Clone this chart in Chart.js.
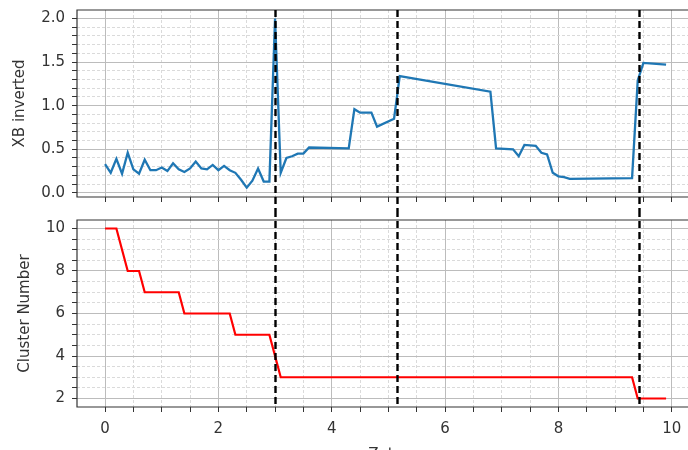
<!DOCTYPE html>
<html>
<head>
<meta charset="utf-8">
<script src="https://cdn.jsdelivr.net/npm/chart.js@4/dist/chart.umd.min.js"></script>
<style>
  html, body { margin: 0; padding: 0; background: #fff; overflow: hidden; }
  #wrap { position: relative; width: 688px; height: 450px; overflow: hidden; }
  #wrap canvas { position: absolute; left: 0; }
  #xbCanvas { top: 0; }
  #clusterCanvas { top: 210px; }
</style>
</head>
<body>
<div id="wrap">
  <canvas id="xbCanvas" width="688" height="210"></canvas>
  <canvas id="clusterCanvas" width="688" height="240"></canvas>
</div>
<script>
// XB index (inverted) along zeta
const xbX = [0.0, 0.1, 0.2, 0.3, 0.4, 0.5, 0.6, 0.7, 0.8, 0.9,
             1.0, 1.1, 1.2, 1.3, 1.4, 1.5, 1.6, 1.7, 1.8, 1.9,
             2.0, 2.1, 2.2, 2.3, 2.4, 2.5, 2.6, 2.7, 2.8, 2.9,
             3.0, 3.1, 3.2, 3.3, 3.4, 3.5, 3.6, 4.3, 4.4, 4.5,
             4.7, 4.8, 5.1, 5.2, 6.8, 6.9, 7.2, 7.3, 7.4, 7.6,
             7.7, 7.8, 7.9, 8.0, 8.1, 8.2, 9.3, 9.4, 9.5, 9.9];
const xbY = [0.33, 0.23, 0.39, 0.22, 0.46, 0.27, 0.22, 0.38, 0.26, 0.26,
             0.29, 0.25, 0.34, 0.27, 0.24, 0.28, 0.36, 0.28, 0.27, 0.32,
             0.26, 0.31, 0.26, 0.23, 0.15, 0.06, 0.14, 0.28, 0.13, 0.13,
             2.00, 0.23, 0.40, 0.42, 0.45, 0.45, 0.52, 0.51, 0.96, 0.92,
             0.92, 0.76, 0.85, 1.34, 1.16, 0.51, 0.50, 0.42, 0.55, 0.54,
             0.46, 0.44, 0.23, 0.19, 0.18, 0.16, 0.17, 1.29, 1.49, 1.47];

// number of clusters along zeta
const clusterX = [0.0, 0.2, 0.4, 0.6, 0.7, 1.3, 1.4, 2.2, 2.3, 2.9, 3.0, 3.1, 9.3, 9.4, 9.9];
const clusterY = [10, 10, 8, 8, 7, 7, 6, 6, 5, 5, 4, 3, 3, 2, 2];

// detected change points
const changeX = [3.0, 5.15, 9.42];

// tick labels
const xLabels = [0, 2, 4, 6, 8, 10];
const xbLabels = [0.0, 0.5, 1.0, 1.5, 2.0];
const clusterLabels = [2, 4, 6, 8, 10];

// zeta range; only the part up to X_VIEW fits on the page
const X_MIN = -0.495;
const X_FULL_MAX = 10.395;
const X_VIEW = 10.287;

const FONT = { family: 'DejaVu Sans', size: 15 };
const TEXT = '#333';

function gridValues(from, to, step) {
  const n = Math.round((to - from) / step);
  return Array.from({ length: n + 1 }, (_, i) => +(from + i * step).toFixed(4));
}
const isMajor = (v, labels) => labels.some(l => Math.abs(l - v) < 1e-6);

function toPoints(xs, ys) {
  return xs.map((x, i) => ({ x: x, y: ys[i] }));
}

// spines plus the dashed change-point lines
function splitsPlugin(extendUp, extendDown) {
  return {
    id: 'splits',
    afterDatasetsDraw(chart) {
      const { ctx, chartArea: a, scales: { x } } = chart;
      ctx.save();
      ctx.strokeStyle = '#333';
      ctx.lineWidth = 1.2;
      ctx.beginPath();
      ctx.moveTo(chart.width, a.top);
      ctx.lineTo(a.left, a.top);
      ctx.lineTo(a.left, a.bottom);
      ctx.lineTo(chart.width, a.bottom);
      ctx.stroke();
      ctx.strokeStyle = '#000';
      ctx.lineWidth = 2.4;
      ctx.setLineDash([7, 4]);
      changeX.forEach(v => {
        const px = Math.round(x.getPixelForValue(v)) + 0.5;
        ctx.beginPath();
        ctx.moveTo(px, extendUp ? 0 : a.top);
        ctx.lineTo(px, extendDown ? chart.height : a.bottom);
        ctx.stroke();
      });
      ctx.restore();
    }
  };
}

function xAxis(showLabels, height) {
  return {
    type: 'linear',
    min: X_MIN,
    max: X_VIEW,
    afterBuildTicks: s => { s.ticks = gridValues(0, 10, 0.5).map(v => ({ value: v })); },
    afterFit: s => { s.height = height; s.paddingLeft = 0; s.paddingRight = 0; },
    ticks: {
      autoSkip: false,
      maxRotation: 0,
      padding: 8,
      color: TEXT,
      font: FONT,
      callback: v => (showLabels && isMajor(v, xLabels)) ? String(v) : ''
    },
    grid: {
      color: c => isMajor(c.tick.value, xLabels) ? '#bcbcbc' : '#dadada',
      lineWidth: 1,
      tickLength: 5,
      tickColor: '#333'
    },
    border: { display: false, dash: c => (c.tick && !isMajor(c.tick.value, xLabels)) ? [3, 2] : [] }
  };
}

function yAxis(min, max, step, labels, digits, title, titlePad) {
  return {
    min: min,
    max: max,
    afterBuildTicks: s => { s.ticks = gridValues(labels[0], labels[labels.length - 1], step).map(v => ({ value: v })); },
    afterFit: s => { s.width = 77; s.paddingTop = 0; s.paddingBottom = 0; },
    ticks: {
      autoSkip: false,
      padding: 7,
      color: TEXT,
      font: FONT,
      callback: v => isMajor(v, labels) ? v.toFixed(digits) : ''
    },
    grid: {
      color: c => isMajor(c.tick.value, labels) ? '#bcbcbc' : '#dadada',
      lineWidth: 1,
      tickLength: 5,
      tickColor: '#333'
    },
    border: { display: false, dash: c => (c.tick && !isMajor(c.tick.value, labels)) ? [3, 2] : [] },
    title: { display: true, text: title, color: TEXT, font: FONT, padding: { top: titlePad, bottom: 0 } }
  };
}

const common = {
  responsive: false,
  animation: false,
  devicePixelRatio: 1,
  plugins: { legend: { display: false }, tooltip: { enabled: false } }
};

new Chart(document.getElementById('xbCanvas'), {
  type: 'line',
  data: {
    datasets: [{
      data: toPoints(xbX, xbY),
      borderColor: '#1f77b4',
      borderWidth: 2.3,
      pointRadius: 0,
      tension: 0
    }]
  },
  options: Object.assign({}, common, {
    layout: { padding: { top: 10, right: 0, left: 0, bottom: 0 } },
    scales: {
      x: xAxis(false, 13),
      y: yAxis(-0.0475, 2.0975, 0.1, xbLabels, 1, 'XB inverted', 11)
    }
  }),
  plugins: [splitsPlugin(false, true)]
});

new Chart(document.getElementById('clusterCanvas'), {
  type: 'line',
  data: {
    datasets: [{
      data: toPoints(clusterX, clusterY),
      borderColor: '#ff0000',
      borderWidth: 2.2,
      pointRadius: 0,
      tension: 0
    }]
  },
  options: Object.assign({}, common, {
    layout: { padding: { top: 10, right: 0, left: 0, bottom: 0 } },
    scales: {
      x: xAxis(true, 43),
      y: yAxis(1.6, 10.4, 0.5, clusterLabels, 0, 'Cluster Number', 16)
    }
  }),
  plugins: [splitsPlugin(true, false), {
    // x-axis title, centred on the full zeta range, runs off the page bottom
    id: 'zetaTitle',
    afterDraw(chart) {
      const { ctx, chartArea: a, scales: { x } } = chart;
      ctx.save();
      ctx.fillStyle = TEXT;
      ctx.font = '15px "DejaVu Sans"';
      ctx.textAlign = 'center';
      ctx.textBaseline = 'top';
      ctx.fillText('Zeta', (x.getPixelForValue(X_MIN) + x.getPixelForValue(X_FULL_MAX)) / 2, a.bottom + 41);
      ctx.restore();
    }
  }]
});
</script>
</body>
</html>
